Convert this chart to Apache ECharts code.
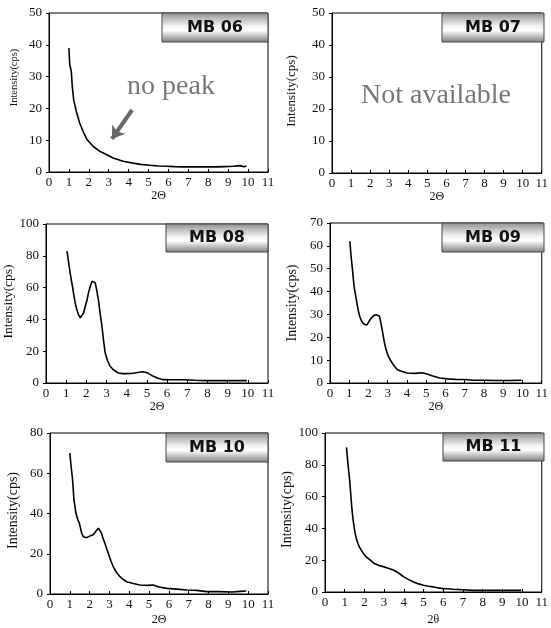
<!DOCTYPE html>
<html>
<head>
<meta charset="utf-8">
<script src="https://cdn.jsdelivr.net/npm/echarts@6/dist/echarts.min.js"></script>
<style>
  html, body { margin: 0; padding: 0; background: #fff; }
  #chart { width: 551px; height: 628px; }
</style>
</head>
<body>
<div id="chart"></div>
<script>
// Small-angle XRD patterns, intensity (cps) against 2θ, one panel per sample.

const sampleNames = ['MB 06', 'MB 07', 'MB 08', 'MB 09', 'MB 10', 'MB 11'];

const mb06Theta = [1.0, 1.04, 1.08, 1.12, 1.17, 1.24, 1.37, 1.54, 1.71, 1.91, 2.21, 2.55, 2.88, 3.22, 3.72, 4.22, 4.6, 5.06, 5.5, 5.9, 6.3, 6.73, 7.2, 7.57, 8.0, 8.4, 8.8, 9.25, 9.58, 9.75, 9.92];
const mb06Intensity = [39.0, 33.8, 33.5, 31.7, 26.9, 22.7, 19.1, 15.4, 12.8, 10.2, 8.1, 6.5, 5.5, 4.4, 3.4, 2.8, 2.4, 2.1, 1.9, 1.8, 1.7, 1.6, 1.6, 1.6, 1.6, 1.6, 1.7, 1.8, 2.0, 1.7, 1.8];

// MB 07 has no measurement
const mb07Theta = [];
const mb07Intensity = [];

const mb08Theta = [1.04, 1.12, 1.2, 1.28, 1.37, 1.45, 1.53, 1.61, 1.7, 1.78, 1.86, 1.94, 2.03, 2.11, 2.2, 2.28, 2.36, 2.44, 2.52, 2.6, 2.68, 2.77, 2.85, 2.93, 3.05, 3.18, 3.35, 3.59, 3.8, 4.0, 4.2, 4.4, 4.6, 4.8, 5.0, 5.32, 5.55, 5.8, 6.2, 6.8, 7.4, 8.0, 8.6, 9.2, 9.95];
const mb08Intensity = [83, 76, 69, 63, 56, 50, 46, 43, 41, 42, 44, 48, 52, 57, 61, 64, 65, 63, 58, 52, 44, 36, 27, 19, 14, 10.5, 8.2, 6.3, 5.9, 5.9, 6.0, 6.3, 6.8, 7.1, 6.5, 4.2, 3.0, 2.1, 2.0, 2.0, 1.7, 1.5, 1.5, 1.5, 1.5];

const mb09Theta = [1.03, 1.09, 1.15, 1.25, 1.37, 1.46, 1.54, 1.62, 1.71, 1.82, 1.93, 2.03, 2.14, 2.27, 2.4, 2.5, 2.57, 2.65, 2.74, 2.82, 2.91, 3.04, 3.17, 3.33, 3.5, 3.75, 4.0, 4.4, 4.8, 5.0, 5.3, 5.7, 6.1, 6.6, 7.0, 7.4, 8.0, 8.6, 9.2, 9.95];
const mb09Intensity = [62, 56, 51, 42.3, 36.4, 32, 29.2, 27.5, 26.2, 25.5, 25.5, 27, 28.4, 29.5, 29.9, 30, 29.2, 26, 21.9, 18, 14.6, 11.5, 9.5, 7.5, 5.8, 5.0, 4.4, 4.2, 4.5, 4.0, 3.2, 2.2, 1.8, 1.5, 1.5, 1.2, 1.2, 1.1, 1.1, 1.2];

const mb10Theta = [1.0, 1.07, 1.14, 1.21, 1.31, 1.4, 1.48, 1.6, 1.68, 1.76, 1.85, 1.93, 2.05, 2.18, 2.3, 2.44, 2.52, 2.6, 2.68, 2.77, 2.86, 2.94, 3.07, 3.19, 3.35, 3.53, 3.7, 3.87, 4.2, 4.54, 4.9, 5.2, 5.5, 5.9, 6.4, 6.9, 7.4, 7.9, 8.5, 9.2, 9.6, 9.9];
const mb10Intensity = [70, 63, 56.7, 46.8, 40.1, 37, 35.2, 30.2, 28.5, 27.7, 28, 28.5, 29, 29.4, 31, 32.7, 31.5, 30.2, 27.5, 25.2, 22.5, 20.2, 16.5, 13.6, 10.8, 8.6, 7.2, 6.1, 5.2, 4.5, 4.3, 4.5, 3.5, 2.8, 2.4, 2.0, 1.8, 1.2, 1.2, 1.0, 1.3, 1.5];

const mb11Theta = [1.09, 1.17, 1.25, 1.31, 1.37, 1.44, 1.5, 1.58, 1.67, 1.75, 1.84, 1.96, 2.09, 2.3, 2.5, 2.75, 3.0, 3.25, 3.5, 3.75, 4.0, 4.25, 4.5, 4.75, 5.0, 5.25, 5.5, 5.75, 6.0, 6.25, 6.5, 7.0, 7.5, 8.0, 8.5, 9.0, 9.5, 9.95];
const mb11Intensity = [91, 80, 70.5, 61, 51.6, 44, 39, 34, 30.5, 28.2, 26.3, 24, 22.1, 20, 17.9, 16.6, 15.8, 14.8, 13.7, 11.8, 9.5, 7.8, 6.3, 5.1, 4.2, 3.6, 3.2, 2.6, 2.1, 2.0, 1.7, 1.4, 1.05, 1.0, 1.0, 1.0, 1.0, 1.05];

// Axis tick values
const thetaTicks = [0, 1, 2, 3, 4, 5, 6, 7, 8, 9, 10, 11];
const intensityMax = [50, 50, 100, 70, 80, 100];
const intensityStep = [10, 10, 20, 10, 20, 20];
const thetaNames = ['2Θ', '2Θ', '2Θ', '2Θ', '2Θ', '2θ'];
const intensityName = 'Intensity(cps)';

// Annotation arrow for MB 06, in data coordinates (2θ, cps)
const arrowFrom = [4.17, 19.5];
const arrowTo = [3.16, 10.4];

const thetaSets = [mb06Theta, mb07Theta, mb08Theta, mb09Theta, mb10Theta, mb11Theta];
const intensitySets = [mb06Intensity, mb07Intensity, mb08Intensity, mb09Intensity, mb10Intensity, mb11Intensity];

// Panel geometry (px)
const layout = [
  { left: 49,  top: 13,  width: 219, height: 159, xGap: 16, yGap: 29, yFont: 10.5, yPad: [0, 0, 0, 30], box: [162, 13, 106, 29] },
  { left: 332, top: 13,  width: 212, height: 160, xGap: 16, yGap: 34, yFont: 13,   yPad: [0, 0, 0, 4],  box: [442, 13, 102, 29] },
  { left: 46,  top: 224, width: 222, height: 159, xGap: 18, yGap: 23, yFont: 13.5, yPad: [0, 0, 0, 4],  box: [166, 224, 102, 28] },
  { left: 330, top: 223, width: 214, height: 160, xGap: 18, yGap: 31, yFont: 14,   yPad: [0, 0, 0, 0],  box: [442, 223, 102, 29] },
  { left: 50,  top: 433, width: 218, height: 161, xGap: 20, yGap: 30, yFont: 14,   yPad: [0, 0, 0, 6],  box: [166, 433, 102, 29] },
  { left: 325, top: 433, width: 219, height: 159, xGap: 22, yGap: 26, yFont: 14,   yPad: [0, 0, 0, 6],  box: [443, 433, 101, 28] }
];

const serif = '"Liberation Serif", "DejaVu Serif", serif';

const grids = [], xAxes = [], yAxes = [], series = [], graphics = [];

layout.forEach((p, i) => {
  grids.push({
    left: p.left, top: p.top, width: p.width, height: p.height,
    show: true, borderColor: '#000', borderWidth: 1, backgroundColor: 'transparent'
  });
  xAxes.push({
    gridIndex: i, type: 'value',
    min: thetaTicks[0], max: thetaTicks[thetaTicks.length - 1], interval: 1,
    name: thetaNames[i], nameLocation: 'middle', nameGap: p.xGap,
    nameTextStyle: { fontFamily: serif, fontSize: 12, color: '#111' },
    axisLine: { onZero: false, lineStyle: { color: '#000', width: 1 } },
    axisTick: { inside: true, length: 3, lineStyle: { color: '#000' } },
    axisLabel: { margin: 4, fontFamily: serif, fontSize: 13, color: '#111' },
    splitLine: { show: false }
  });
  yAxes.push({
    gridIndex: i, type: 'value',
    min: 0, max: intensityMax[i], interval: intensityStep[i],
    name: intensityName, nameLocation: 'middle', nameGap: p.yGap, nameRotate: 90,
    nameTextStyle: { fontFamily: serif, fontSize: p.yFont, color: '#111', padding: p.yPad },
    axisLine: { show: true, lineStyle: { color: '#000', width: 1 } },
    axisTick: { show: true, inside: false, length: 3, lineStyle: { color: '#000' } },
    axisLabel: { margin: 7, fontFamily: serif, fontSize: 13, color: '#111' },
    splitLine: { show: false }
  });

  if (thetaSets[i].length) {
    const s = {
      type: 'line', xAxisIndex: i, yAxisIndex: i,
      data: thetaSets[i].map((t, k) => [t, intensitySets[i][k]]),
      showSymbol: false, symbol: 'none', smooth: false,
      lineStyle: { color: '#000', width: 1.6 },
      animation: false, silent: true
    };
    if (i === 0) {
      s.markLine = {
        silent: true, animation: false,
        symbol: ['none', 'arrow'], symbolSize: [12, 12],
        lineStyle: { color: '#666', width: 4, type: 'solid' },
        label: { show: false },
        data: [[{ coord: arrowFrom }, { coord: arrowTo }]]
      };
    }
    series.push(s);
  }

  // Sample name tag in the top-right corner
  const [bx, by, bw, bh] = p.box;
  graphics.push({
    type: 'rect', z: 100,
    shape: { x: bx, y: by, width: bw, height: bh },
    style: {
      fill: new echarts.graphic.LinearGradient(0, 0, 0, 1, [
        { offset: 0, color: '#8e8e8e' },
        { offset: 0.45, color: '#f2f2f2' },
        { offset: 0.6, color: '#ffffff' },
        { offset: 1, color: '#7c7c7c' }
      ]),
      stroke: '#444', lineWidth: 1
    }
  });
  graphics.push({
    type: 'text', z: 101,
    x: bx + bw / 2, y: by + bh / 2,
    style: {
      text: sampleNames[i], align: 'center', verticalAlign: 'middle',
      font: 'bold 16px "DejaVu Sans", sans-serif', fill: '#111'
    }
  });
});

graphics.push({
  type: 'text', z: 90, x: 171, y: 87,
  style: { text: 'no peak', align: 'center', verticalAlign: 'middle', font: '28px "Liberation Serif", serif', fill: '#777' }
});
graphics.push({
  type: 'text', z: 90, x: 436, y: 96,
  style: { text: 'Not available', align: 'center', verticalAlign: 'middle', font: '28px "Liberation Serif", serif', fill: '#777' }
});

const chart = echarts.init(document.getElementById('chart'), null, { renderer: 'canvas' });
chart.setOption({
  animation: false,
  backgroundColor: '#fff',
  grid: grids,
  xAxis: xAxes,
  yAxis: yAxes,
  series: series,
  graphic: graphics
});
</script>
</body>
</html>
